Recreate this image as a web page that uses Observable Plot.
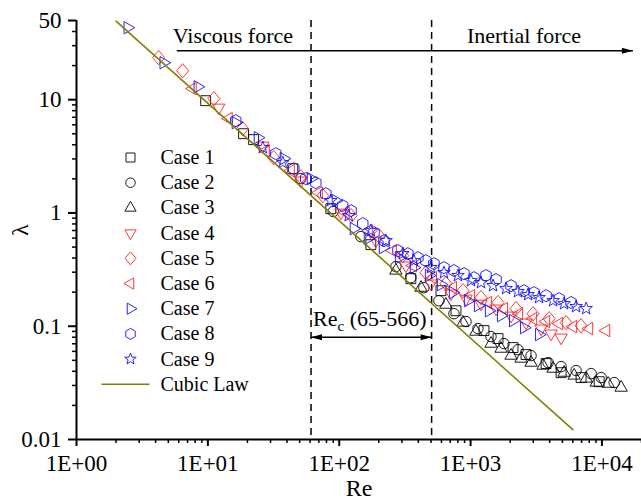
<!DOCTYPE html>
<html><head><meta charset="utf-8">
<script src="https://cdn.jsdelivr.net/npm/d3@7"></script>
<script src="https://cdn.jsdelivr.net/npm/@observablehq/plot@0.6"></script>
<style>body{margin:0;background:#fff}</style>
</head><body><div id="chart"></div>
<script>
// ---------- data ----------
const caseNames = ["Case 1","Case 2","Case 3","Case 4","Case 5","Case 6","Case 7","Case 8","Case 9"];

const case1Re = [9.62,18.7,22.3,44.3,86.3,174,351,595,774,1265,1618,2104,2643,3756,4887,6936,9520];
const case1Lambda = [9.80,5.01,4.44,2.46,1.09,0.525,0.263,0.206,0.137,0.0915,0.0778,0.0648,0.0562,0.0468,0.0389,0.0352,0.0324];

const case2Re = [51.0,90,146,270,351,441,574,747,923,1138,1430,1797,2297,2886,3890,4887,6356,8270,9860,12390];
const case2Lambda = [2.01,1.03,0.618,0.336,0.2685,0.219,0.168,0.129,0.110,0.0953,0.0810,0.0702,0.0621,0.055,0.0477,0.0440,0.0406,0.0382,0.0352,0.0318];

const case3Re = [270,419,649,875,1099,1430,1705,2032,2422,2886,3564,4248,5150,6140,7580,9040,11150,14000];
const case3Lambda = [0.31,0.219,0.155,0.1076,0.0896,0.0702,0.0634,0.055,0.0518,0.0477,0.0449,0.0422,0.0389,0.0367,0.0345,0.0318,0.0311,0.0287];

const case4Re = [12.1,26.2,51.0,103,190,322,499,709,923,1200,1562,2032,2643,3440,4100,4887];
const case4Lambda = [8.50,3.93,1.93,1.006,0.569,0.343,0.238,0.194,0.175,0.158,0.143,0.124,0.1076,0.0953,0.0861,0.0793];

const case5Re = [4.22,6.43,11.1,18.4,31.7,51.0,75.0,123,200,305,457,649,875,1200,1618,2218,2990,3960,5330,6936];
const case5Lambda = [23.5,18.0,10.2,5.55,3.08,2.09,1.42,0.947,0.631,0.42,0.297,0.238,0.206,0.179,0.162,0.143,0.129,0.1167,0.1076,0.101];

const case6Re = [7.66,14.4,27.6,42.8,69.9,112,168,256,364,517,734,1007,1357,1797,2338,2990,3756,4720,6030,7980,10770];
const case6Lambda = [12.5,6.80,3.55,2.36,1.51,1.006,0.698,0.465,0.343,0.2685,0.219,0.186,0.162,0.143,0.129,0.1167,0.110,0.1054,0.0992,0.0953,0.0915];

const case7Re = [2.45,4.60,8.36,16.3,24.0,37.8,60.8,94.2,129,165,215,285,370,482,595,734,955,1138,1380,1705,2104,2553,3320];
const case7Lambda = [43.2,21.2,13.0,6.27,4.62,3.02,2.01,1.284,0.727,0.593,0.494,0.403,0.329,0.280,0.233,0.198,0.168,0.152,0.137,0.124,0.112,0.0972,0.0843];

const case8Re = [16.3,32.9,45.1,55.6,66.3,79.0,106,123,151,184,219,280,333,397,457,526,627,747,891,1061,1310,1562,2032,2553,3042,3756,4720,5820];
const case8Lambda = [6.53,3.34,2.46,2.01,1.85,1.48,1.16,1.048,0.804,0.670,0.569,0.465,0.437,0.403,0.379,0.357,0.329,0.310,0.291,0.2685,0.280,0.258,0.228,0.206,0.198,0.186,0.175,0.162];

const case9Re = [26.2,37.2,86.3,118,174,227,305,370,499,627,802,1007,1200,1482,1862,2297,2739,3320,4248,5150,6356,7580];
const case9Lambda = [3.77,2.78,1.284,0.947,0.698,0.569,0.437,0.379,0.329,0.297,0.280,0.2526,0.2426,0.228,0.215,0.202,0.190,0.179,0.168,0.158,0.149,0.143];

const cubicLawRe = [2.0, 6000];
const cubicLawLambda = [49.3, 0.0122];

const criticalRe = [61, 505];
const rangeArrowLambda = 0.08;
const rangeLabel = "Rec (65-566)";
const rangeLabelLambda = 0.117;

const regimeLabels = ["Viscous force", "Inertial force"];
const regimeLabelRe = [15.5, 2550];
const regimeLabelLambda = 36.7;
const regimeArrowRe = [5.8, 17200];
const regimeArrowLambda = 27.1;

const xTickValues = [1, 10, 100, 1000, 10000];
const xTickLabels = ["1E+00", "1E+01", "1E+02", "1E+03", "1E+04"];
const yTickValues = [0.01, 0.1, 1, 10, 50];
const yTickLabels = ["0.01", "0.1", "1", "10", "50"];

// ---------- styles ----------
const caseColors = ["#000","#000","#000","#ff2020","#ff2020","#ff2020","#1010ff","#1010ff","#1010ff"];
const cubicColor = "#808000";
const font = "Liberation Serif";

// ---------- symbols ----------
function polySym(pts) {
  return {draw(ctx, size) {
    const r = Math.sqrt(size / Math.PI);
    pts.forEach(([a, b], i) => i ? ctx.lineTo(a * r, b * r) : ctx.moveTo(a * r, b * r));
    ctx.closePath();
  }};
}
const k = 1.3, c = 1.126, h = 0.65;
const symSquare = polySym([[-0.9,-0.9],[0.9,-0.9],[0.9,0.9],[-0.9,0.9]]);
const symCircle = {draw(ctx, size){ const r = Math.sqrt(size/Math.PI)*0.95; ctx.moveTo(r,0); ctx.arc(0,0,r,0,2*Math.PI); }};
const symUp = polySym([[0,-k],[c,h],[-c,h]]);
const symDown = polySym([[0,k],[c,-h],[-c,-h]]);
const symLeft = polySym([[-k,0],[h,-c],[h,c]]);
const symRight = polySym([[k,0],[-h,-c],[-h,c]]);
const symDiamond = polySym([[0,-1.3],[1.1,0],[0,1.3],[-1.1,0]]);
const symHex = polySym(d3.range(6).map(i => { const a = -Math.PI/2 + i*Math.PI/3; return [1.1*Math.cos(a), 1.1*Math.sin(a)]; }));
const symStar = polySym(d3.range(10).map(i => { const a = -Math.PI/2 + i*Math.PI/5; const rr = i % 2 ? 0.5 : 1.2; return [rr*Math.cos(a), rr*Math.sin(a)]; }));
const caseSymbols = [symSquare, symCircle, symUp, symDown, symDiamond, symLeft, symRight, symHex, symStar];

const headRight = {draw(ctx){ ctx.moveTo(0,0); ctx.lineTo(-11,-3); ctx.lineTo(-11,3); ctx.closePath(); }};
const headLeft = {draw(ctx){ ctx.moveTo(0,0); ctx.lineTo(11,-3); ctx.lineTo(11,3); ctx.closePath(); }};
const legendLine = {draw(ctx){ ctx.moveTo(-24,0); ctx.lineTo(24,0); }};

// ---------- tables ----------
const caseRe = [case1Re,case2Re,case3Re,case4Re,case5Re,case6Re,case7Re,case8Re,case9Re];
const caseLambda = [case1Lambda,case2Lambda,case3Lambda,case4Lambda,case5Lambda,case6Lambda,case7Lambda,case8Lambda,case9Lambda];
const caseTables = caseRe.map((res, j) => res.map((re, i) => ({re, lam: caseLambda[j][i]})));
const cubicTable = cubicLawRe.map((re, i) => ({re, lam: cubicLawLambda[i]}));

const xMinor = [];
for (const dec of [1, 10, 100, 1000, 10000]) for (let m = 2; m <= 9; m++) if (dec*m <= 20000) xMinor.push(dec*m);
const yMinor = [];
for (const dec of [0.01, 0.1, 1]) for (let m = 2; m <= 9; m++) yMinor.push(+(dec*m).toPrecision(3));
yMinor.push(20, 30, 40);

const marks = [];
marks.push(Plot.ruleX(criticalRe, {stroke: "#000", strokeWidth: 1.5, strokeDasharray: "7,5"}));
caseTables.forEach((tbl, j) => {
  marks.push(Plot.dot(tbl, {x: "re", y: "lam", symbol: caseSymbols[j], r: 5.5, stroke: caseColors[j], fill: "none", strokeWidth: 0.9}));
});
marks.push(Plot.line(cubicTable, {x: "re", y: "lam", stroke: cubicColor, strokeWidth: 1.6}));

// regime arrow at top
marks.push(Plot.link([0], {x1: () => regimeArrowRe[0], x2: () => regimeArrowRe[1], y1: () => regimeArrowLambda, y2: () => regimeArrowLambda, stroke: "#000", strokeWidth: 1.5}));
marks.push(Plot.dot([0], {x: () => regimeArrowRe[1], y: () => regimeArrowLambda, symbol: headRight, fill: "#000", stroke: "none"}));
marks.push(Plot.text(regimeLabels, {x: (d, i) => regimeLabelRe[i], y: () => regimeLabelLambda, text: d => d, fontSize: 22, fontFamily: font, textAnchor: "middle", lineAnchor: "middle"}));

// critical Re range arrow
marks.push(Plot.link([0], {x1: () => criticalRe[0], x2: () => criticalRe[1], y1: () => rangeArrowLambda, y2: () => rangeArrowLambda, stroke: "#000", strokeWidth: 1.5}));
marks.push(Plot.dot([0], {x: () => criticalRe[0], y: () => rangeArrowLambda, symbol: headLeft, fill: "#000", stroke: "none"}));
marks.push(Plot.dot([0], {x: () => criticalRe[1], y: () => rangeArrowLambda, symbol: headRight, fill: "#000", stroke: "none"}));
marks.push(Plot.text([rangeLabel], {x: () => criticalRe[0], y: () => rangeLabelLambda, text: d => d, fontSize: 22, fontFamily: font, textAnchor: "start", lineAnchor: "middle", dx: 2}));

// legend
caseNames.forEach((name, i) => {
  const dy = 137 + i * 25.2;
  marks.push(Plot.dot([name], {frameAnchor: "top-left", dx: 54, dy, symbol: caseSymbols[i], r: 5, stroke: caseColors[i], fill: "none", strokeWidth: 0.9}));
  marks.push(Plot.text([name], {frameAnchor: "top-left", dx: 84, dy, text: d => d, fontSize: 20, fontFamily: font, textAnchor: "start", lineAnchor: "middle"}));
});
{
  const dy = 137 + 9 * 25.2;
  marks.push(Plot.dot(["Cubic Law"], {frameAnchor: "top-left", dx: 49, dy, symbol: legendLine, stroke: cubicColor, strokeWidth: 1.6, fill: "none"}));
  marks.push(Plot.text(["Cubic Law"], {frameAnchor: "top-left", dx: 84, dy, text: d => d, fontSize: 20, fontFamily: font, textAnchor: "start", lineAnchor: "middle"}));
}

// axes (ticks via axis marks, labels via text marks so log-scale label thinning does not apply)
marks.push(Plot.axisX({ticks: xMinor, tickFormat: () => "", tickSize: 4, strokeWidth: 1.5}));
marks.push(Plot.axisX({ticks: xTickValues, tickFormat: () => "", tickSize: 7, strokeWidth: 2}));
marks.push(Plot.text(xTickValues, {x: d => d, frameAnchor: "bottom", dy: 15, text: (d, i) => xTickLabels[i], fontSize: 23, fontFamily: font, lineAnchor: "top", textAnchor: "middle"}));
marks.push(Plot.axisY({ticks: yMinor, tickFormat: () => "", tickSize: 4, strokeWidth: 1.5}));
marks.push(Plot.axisY({ticks: yTickValues, tickFormat: () => "", tickSize: 8, strokeWidth: 2}));
marks.push(Plot.text(yTickValues, {y: d => d, frameAnchor: "left", dx: -15, text: (d, i) => yTickLabels[i], fontSize: 23, fontFamily: font, lineAnchor: "middle", textAnchor: "end"}));
marks.push(Plot.ruleY([0.01], {stroke: "#000", strokeWidth: 2}));
marks.push(Plot.ruleX([1], {stroke: "#000", strokeWidth: 2}));
marks.push(Plot.text(["Re"], {frameAnchor: "bottom", dy: 56, text: d => d, fontSize: 24, fontFamily: font, lineAnchor: "bottom"}));
marks.push(Plot.text(["λ"], {frameAnchor: "left", dx: -56, dy: 6, rotate: -90, text: d => d, fontSize: 24, fontFamily: font, lineAnchor: "middle"}));

const chart = Plot.plot({
  width: 641, height: 500,
  marginLeft: 76, marginRight: 0, marginTop: 20, marginBottom: 61,
  x: {type: "log", domain: [1, 20000], label: null},
  y: {type: "log", domain: [0.01, 50.02], label: null},
  style: "font-family: 'Liberation Serif', serif; font-size: 22px; background: #fff; color: #000; overflow: visible;",
  marks
});

d3.select(chart).selectAll("text").filter(function(){ return this.textContent === rangeLabel; }).each(function(){
  const t = d3.select(this);
  t.text(null);
  t.append("tspan").text("Re");
  t.append("tspan").attr("dy", 5).attr("font-size", 15).text("c");
  t.append("tspan").attr("dy", -5).text(" (65-566)");
});

document.getElementById("chart").appendChild(chart);
</script>
</body></html>
